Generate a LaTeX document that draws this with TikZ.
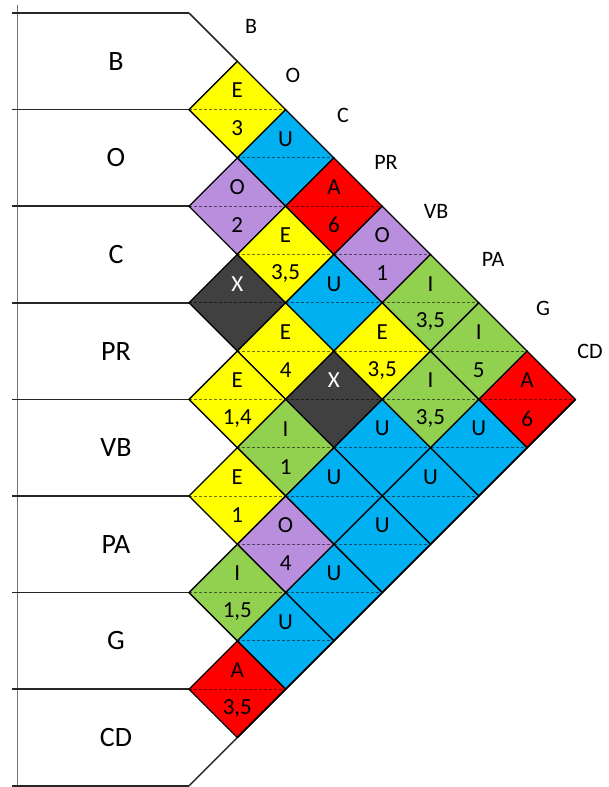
\documentclass[tikz,border=0pt]{standalone}
\usepackage{fontspec}
\setmainfont{Carlito}
\usetikzlibrary{shapes.geometric}

\definecolor{relyellow}{RGB}{255,255,0}
\definecolor{relblue}{RGB}{0,176,240}
\definecolor{relred}{RGB}{255,0,0}
\definecolor{relpurple}{RGB}{185,142,220}
\definecolor{relgreen}{RGB}{146,208,80}
\definecolor{relgray}{RGB}{64,64,64}

\begin{document}
\begin{tikzpicture}[
    x=1pt, y=-1pt,
    cell/.style={diamond, draw=black, line width=1.3pt, minimum width=96.6pt, minimum height=96.6pt, inner sep=0pt, outer sep=0pt},
    midline/.style={draw=black, draw opacity=0.55, line width=0.9pt, dash pattern=on 3pt off 2pt},
    tag/.style={font=\fontsize{23}{23}\selectfont, inner sep=0pt},
    dept/.style={font=\fontsize{28}{28}\selectfont},
    diag/.style={font=\fontsize{22}{22}\selectfont},
    rowline/.style={draw=black!85, line width=1.5pt},
    relA/.style={fill=relred}, relE/.style={fill=relyellow}, relI/.style={fill=relgreen},
    relO/.style={fill=relpurple}, relU/.style={fill=relblue}, relX/.style={fill=relgray},
    inkA/.style={text=black}, inkE/.style={text=black}, inkI/.style={text=black},
    inkO/.style={text=black}, inkU/.style={text=black}, inkX/.style={text=white}
]
\useasboundingbox (0,0) rectangle (608,787);

% Left column: departments
\draw[black!55, line width=0.8pt] (17,5) -- (17,787);
\foreach \k in {0,...,8}
    \draw[rowline] (11.7,{13+96.6*\k}) -- (189,{13+96.6*\k});
\foreach \name [count=\k from 0] in {B,O,C,PR,VB,PA,G,CD}
    \node[dept] (d\k) at (116,{61.3+96.6*\k}) {\name};

% Relationship cells
\foreach \i/\j/\rel/\why in {
    0/1/E/3, 0/2/U/{}, 0/3/A/6, 0/4/O/1, 0/5/I/{3,5}, 0/6/I/5, 0/7/A/6,
    1/2/O/2, 1/3/E/{3,5}, 1/4/U/{}, 1/5/E/{3,5}, 1/6/I/{3,5}, 1/7/U/{},
    2/3/X/{}, 2/4/E/4, 2/5/X/{}, 2/6/U/{}, 2/7/U/{},
    3/4/E/{1,4}, 3/5/I/1, 3/6/U/{}, 3/7/U/{},
    4/5/E/1, 4/6/O/4, 4/7/U/{},
    5/6/I/{1,5}, 5/7/U/{},
    6/7/A/{3,5}}
{
    \node[cell, rel\rel] (c\i\j) at ({189+(\j-\i)*48.3},{13+48.3*(\i+\j+1)}) {};
    \draw[midline] (c\i\j.west) -- (c\i\j.east);
    \node[tag, ink\rel] (t\i\j) at ([yshift=19pt]c\i\j.center) {\rel};
    \node[tag] (n\i\j) at ([yshift=-19pt]c\i\j.center) {\why};
}

% Outline
\draw[rowline] (189,13) -- (c01.north);
\draw[rowline] (189,785.8) -- (c67.south);
\draw[black, line width=1.8pt] (c67.south) -- (c07.east);

% Diagonal labels
\foreach \name/\x/\y in {B/251/26, O/293/75, C/343/115, PR/386/162, VB/436/211, PA/493/259, G/543/308, CD/590/351}
    \node[diag] (h\name) at (\x,\y) {\name};

\end{tikzpicture}
\end{document}
